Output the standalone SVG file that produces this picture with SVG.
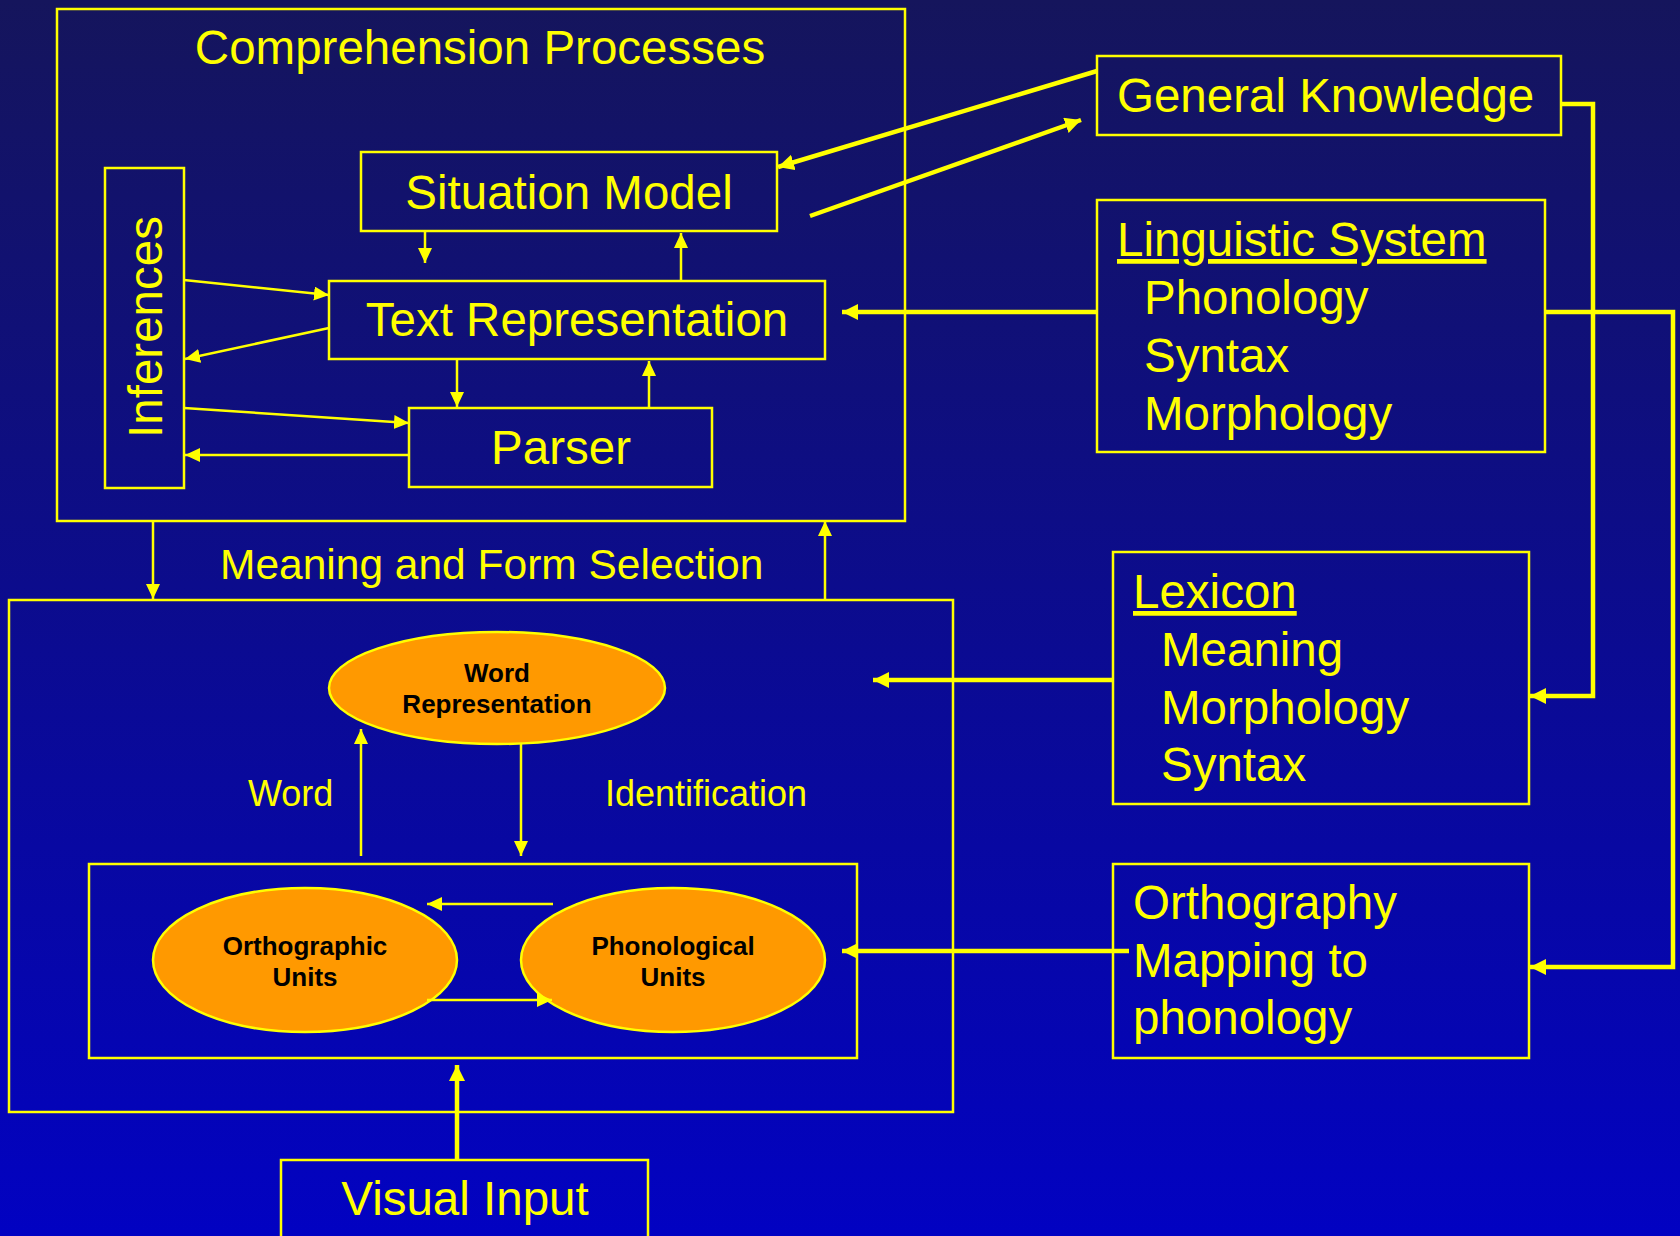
<svg xmlns="http://www.w3.org/2000/svg" width="1680" height="1236" viewBox="0 0 1680 1236">
<style>
  .box { fill: none; stroke: #FFFF00; stroke-width: 2.5; }
  .t { font-family: "Liberation Sans", Arial, sans-serif; fill: #FFFF00; font-size: 47.5px; }
  .tm { text-anchor: middle; }
  .lbl { font-family: "Liberation Sans", Arial, sans-serif; fill: #FFFF00; font-size: 36px; }
  .ell { fill: #FF9900; stroke: #FFFF00; stroke-width: 2.5; }
  .et { font-family: "Liberation Sans", Arial, sans-serif; font-weight: bold; fill: #000000; font-size: 26px; text-anchor: middle; }
  .thin { fill: none; stroke: #FFFF00; stroke-width: 2.5; marker-end: url(#ah); }
  .thick { fill: none; stroke: #FFFF00; stroke-width: 4.5; marker-end: url(#ahb); }
</style>
<defs>
  <linearGradient id="bg" x1="0" y1="0" x2="0" y2="1">
    <stop offset="0" stop-color="#15155C"/>
    <stop offset="1" stop-color="#0202C2"/>
  </linearGradient>
  <marker id="ah" markerUnits="userSpaceOnUse" markerWidth="16" markerHeight="16" refX="15" refY="7" orient="auto">
    <path d="M0,0 L15,7 L0,14 z" fill="#FFFF00"/>
  </marker>
  <marker id="ahb" markerUnits="userSpaceOnUse" markerWidth="18" markerHeight="18" refX="16" refY="8" orient="auto">
    <path d="M0,0 L16,8 L0,16 z" fill="#FFFF00"/>
  </marker>
</defs>
<rect x="0" y="0" width="1680" height="1236" fill="url(#bg)"/>

<g id="comprehension-processes">
  <rect class="box" x="57" y="9" width="848" height="512"/>
  <text class="t tm" x="480" y="64">Comprehension Processes</text>
</g>
<g id="situation-model">
  <rect class="box" x="361" y="152" width="416" height="79"/>
  <text class="t tm" x="569" y="209">Situation Model</text>
</g>
<g id="text-representation">
  <rect class="box" x="329" y="281" width="496" height="78"/>
  <text class="t tm" x="577" y="336">Text Representation</text>
</g>
<g id="parser">
  <rect class="box" x="409" y="408" width="303" height="79"/>
  <text class="t tm" x="561" y="464">Parser</text>
</g>
<g id="inferences">
  <rect class="box" x="105" y="168" width="79" height="320"/>
  <text class="t tm" transform="translate(162,327) rotate(-90)">Inferences</text>
</g>
<g id="general-knowledge">
  <rect class="box" x="1097" y="56" width="464" height="79"/>
  <text class="t" x="1117" y="112">General Knowledge</text>
</g>
<g id="linguistic-system">
  <rect class="box" x="1097" y="200" width="448" height="252"/>
  <text class="t" x="1117" y="256" text-decoration="underline">Linguistic System</text>
  <text class="t" x="1144" y="314">Phonology</text>
  <text class="t" x="1144" y="372">Syntax</text>
  <text class="t" x="1144" y="430">Morphology</text>
</g>
<g id="lexicon">
  <rect class="box" x="1113" y="552" width="416" height="252"/>
  <text class="t" x="1133" y="608" text-decoration="underline">Lexicon</text>
  <text class="t" x="1161" y="666">Meaning</text>
  <text class="t" x="1161" y="724">Morphology</text>
  <text class="t" x="1161" y="781">Syntax</text>
</g>
<g id="orthography">
  <rect class="box" x="1113" y="864" width="416" height="194"/>
  <text class="t" x="1133" y="919">Orthography</text>
  <text class="t" x="1133" y="977">Mapping to</text>
  <text class="t" x="1133" y="1034">phonology</text>
</g>
<g id="meaning-form-selection">
  <rect class="box" x="9" y="600" width="944" height="512"/>
  <text class="t" x="220" y="579" style="font-size:42.5px">Meaning and Form Selection</text>
  <text class="lbl" x="248" y="806">Word</text>
  <text class="lbl" x="605" y="806">Identification</text>
</g>
<g id="word-representation">
  <ellipse class="ell" cx="497" cy="688" rx="168" ry="56"/>
  <text class="et" x="497" y="682">Word</text>
  <text class="et" x="497" y="713">Representation</text>
</g>
<g id="units-group">
  <rect class="box" x="89" y="864" width="768" height="194"/>
</g>
<g id="orthographic-units">
  <ellipse class="ell" cx="305" cy="960" rx="152" ry="72"/>
  <text class="et" x="305" y="955">Orthographic</text>
  <text class="et" x="305" y="986">Units</text>
</g>
<g id="phonological-units">
  <ellipse class="ell" cx="673" cy="960" rx="152" ry="72"/>
  <text class="et" x="673" y="955">Phonological</text>
  <text class="et" x="673" y="986">Units</text>
</g>
<g id="visual-input">
  <rect class="box" x="281" y="1160" width="367" height="90"/>
  <text class="t tm" x="465" y="1215">Visual Input</text>
</g>

<g id="connectors">
  <path class="thin" d="M425,231 L425,263"/>
  <path class="thin" d="M681,281 L681,233"/>
  <path class="thin" d="M184,280 L329,295"/>
  <path class="thin" d="M329,328 L185,359"/>
  <path class="thin" d="M457,359 L457,407"/>
  <path class="thin" d="M649,408 L649,361"/>
  <path class="thin" d="M184,408 L409,423"/>
  <path class="thin" d="M409,455 L185,455"/>
  <path class="thick" d="M1097,71 L778,167"/>
  <path class="thick" d="M810,216 L1081,120"/>
  <path class="thick" d="M1561,104 H1593 V696 H1530"/>
  <path class="thick" d="M1097,312 H842"/>
  <path class="thick" d="M1545,312 H1673 V967 H1530"/>
  <path class="thick" d="M1113,680 H873"/>
  <path class="thick" d="M1129,951 H842"/>
  <path class="thin" d="M153,521 V599"/>
  <path class="thin" d="M825,599 V521"/>
  <path class="thin" d="M361,856 V729"/>
  <path class="thin" d="M521,744 V856"/>
  <path class="thin" d="M553,904 H427"/>
  <path class="thin" d="M427,1000 H552"/>
  <path class="thick" d="M457,1160 V1065"/>
</g>
</svg>
